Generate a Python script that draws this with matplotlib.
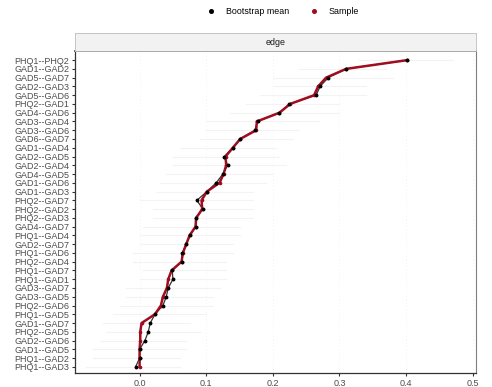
import matplotlib

matplotlib.use("Agg")

import matplotlib.pyplot as plt
from matplotlib.lines import Line2D

# edges, top to bottom as shown
EDGES = [
    "PHQ1--PHQ2", "GAD1--GAD2", "GAD5--GAD7", "GAD2--GAD3", "GAD5--GAD6",
    "PHQ2--GAD1", "GAD4--GAD6", "GAD3--GAD4", "GAD3--GAD6", "GAD6--GAD7",
    "GAD1--GAD4", "GAD2--GAD5", "GAD2--GAD4", "GAD4--GAD5", "GAD1--GAD6",
    "GAD1--GAD3", "PHQ2--GAD7", "PHQ2--GAD2", "PHQ2--GAD3", "GAD4--GAD7",
    "PHQ1--GAD4", "GAD2--GAD7", "PHQ1--GAD6", "PHQ2--GAD4", "PHQ1--GAD7",
    "PHQ1--GAD1", "GAD3--GAD7", "GAD3--GAD5", "PHQ2--GAD6", "PHQ1--GAD5",
    "GAD1--GAD7", "PHQ2--GAD5", "GAD2--GAD6", "GAD1--GAD5", "PHQ1--GAD2",
    "PHQ1--GAD3",
]
SAMPLE = [
    0.402, 0.310, 0.280, 0.268, 0.262, 0.226, 0.210, 0.176, 0.175, 0.151,
    0.140, 0.129, 0.130, 0.126, 0.120, 0.101, 0.093, 0.094, 0.085, 0.084,
    0.075, 0.070, 0.065, 0.063, 0.048, 0.043, 0.041, 0.035, 0.032, 0.023,
    0.003, 0.001, 0.001, 0.0, 0.0, 0.0,
]
BOOT_MEAN = [
    0.402, 0.310, 0.283, 0.271, 0.265, 0.225, 0.210, 0.177, 0.173, 0.151,
    0.140, 0.127, 0.132, 0.125, 0.115, 0.101, 0.086, 0.095, 0.084, 0.084,
    0.076, 0.070, 0.064, 0.063, 0.049, 0.050, 0.043, 0.040, 0.035, 0.023,
    0.016, 0.013, 0.008, 0.0, 0.0, -0.006,
]
CI_LOW = [
    0.33, 0.24, 0.20, 0.20, 0.18, 0.16, 0.135, 0.10, 0.10, 0.09,
    0.06, 0.05, 0.05, 0.04, 0.03, 0.025, 0.0, 0.02, 0.02, 0.005,
    0.0, 0.0, -0.01, -0.01, 0.005, 0.0, -0.02, -0.02, -0.03, -0.04,
    -0.055, -0.05, -0.06, -0.07, -0.07, -0.08,
]
CI_HIGH = [
    0.47, 0.37, 0.38, 0.34, 0.34, 0.30, 0.30, 0.27, 0.24, 0.23,
    0.205, 0.21, 0.22, 0.20, 0.19, 0.17, 0.17, 0.17, 0.17, 0.15,
    0.15, 0.14, 0.14, 0.13, 0.13, 0.13, 0.12, 0.11, 0.11, 0.10,
    0.075, 0.09, 0.07, 0.07, 0.06, 0.06,
]
X_TICKS = [0.0, 0.1, 0.2, 0.3, 0.4, 0.5]

RED = "#a00d1e"
GREY_TXT = "#4d4d4d"


def main() -> None:
    plt.rcParams["font.family"] = ["Liberation Sans", "DejaVu Sans"]
    fig = plt.figure(figsize=(4.92, 3.87), dpi=100)
    ax = fig.add_axes([0.1524, 0.0362, 0.8151, 0.8318])

    n = len(EDGES)
    ypos = [n - 1 - i for i in range(n)]

    for x in X_TICKS:
        ax.axvline(x, color="#eeeeee", linewidth=0.6, linestyle=(0, (1, 3)), zorder=0)
    for y, lo, hi in zip(ypos, CI_LOW, CI_HIGH):
        ax.plot([lo, hi], [y, y], color="#f3f3f3", linewidth=0.8, zorder=1)

    ax.plot(BOOT_MEAN, ypos, color="#333333", linewidth=0.9, zorder=2)
    ax.plot(SAMPLE, ypos, color=RED, linewidth=1.8, marker="o", markersize=1.6, zorder=3)
    ax.plot(BOOT_MEAN, ypos, linestyle="none", color="black", marker="o", markersize=1.8, zorder=4)

    ax.set_xlim(-0.097, 0.505)
    ax.set_ylim(-0.7, n - 1 + 1.03)
    ax.set_yticks(ypos, EDGES)
    ax.set_xticks(X_TICKS, [f"{x:.1f}" for x in X_TICKS])
    ax.tick_params(axis="both", labelsize=6.5, colors="#333333", labelcolor=GREY_TXT,
                   length=2.5, width=0.8, pad=1.5)
    for side in ("left", "bottom"):
        ax.spines[side].set_color("#333333")
        ax.spines[side].set_linewidth(0.9)
    ax.spines["right"].set_color("#7f7f7f")
    ax.spines["right"].set_linewidth(0.8)
    ax.spines["top"].set_color("#333333")
    ax.spines["top"].set_linewidth(1.2)

    # facet strip
    strip = fig.add_axes([0.1524, 0.868, 0.8151, 0.047])
    strip.set_facecolor("#f2f2f2")
    strip.set_xticks([])
    strip.set_yticks([])
    for s in strip.spines.values():
        s.set_color("#bdbdbd")
        s.set_linewidth(0.6)
    strip.text(0.5, 0.45, "edge", ha="center", va="center", fontsize=6.4, color="#1a1a1a",
               transform=strip.transAxes)

    handles = [
        Line2D([], [], linestyle="none", marker="o", markersize=2.6, color="black"),
        Line2D([], [], linestyle="none", marker="o", markersize=2.6, color=RED),
    ]
    fig.legend(handles, ["Bootstrap mean", "Sample"], loc="center", ncol=2,
               bbox_to_anchor=(0.575, 0.971), frameon=False, fontsize=6.4,
               handletextpad=1.2, columnspacing=2.2, handlelength=1.0)

    fig.savefig("out.png", dpi=100, facecolor="white")
    plt.close(fig)


if __name__ == "__main__":
    main()
